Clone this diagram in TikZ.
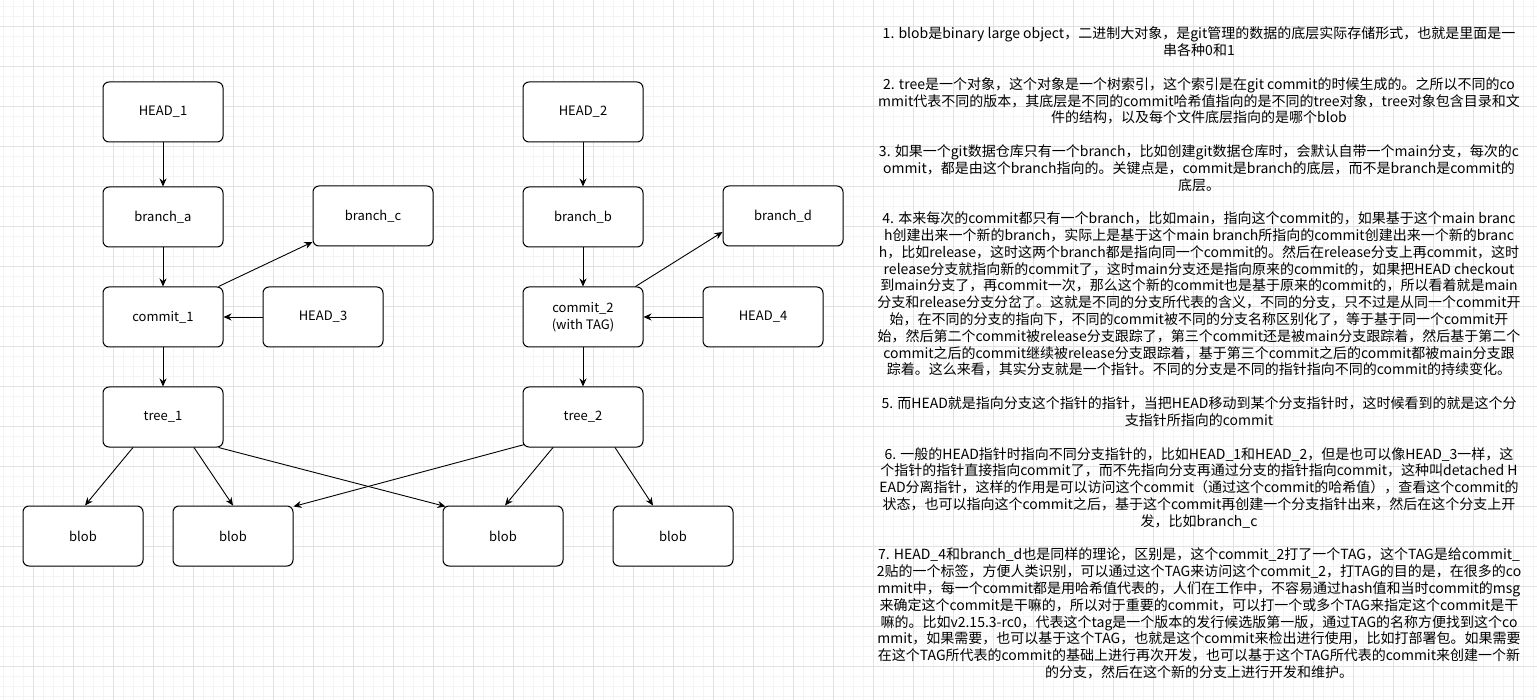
\documentclass[tikz,border=0pt]{standalone}
\usepackage{fontspec}
\setmainfont{Noto Sans CJK SC}
\newfontfamily\cjk{Noto Sans CJK SC}
\usetikzlibrary{arrows.meta}
\definecolor{gridminor}{HTML}{F4F4F4}
\definecolor{gridmajor}{HTML}{E2E2E2}
\newcommand\tline[2]{\node[txt] (t#1) at (1199,{39+16.8*#1}) {#2};}
\begin{document}
\begin{tikzpicture}[x=1pt,y=-1pt,
  box/.style={draw=black, fill=white, line width=1pt, rounded corners=6pt,
    minimum width=120pt, minimum height=60pt, inner sep=0pt, align=center,
    font=\cjk\fontsize{13}{16.5}\selectfont},
  arr/.style={-{Stealth[length=8pt,width=7pt]}, line width=0.9pt},
  txt/.style={anchor=base, inner sep=0pt, font=\cjk\fontsize{14}{16.8}\selectfont},
  minorline/.style={draw=gridminor, line width=0.8pt},
  majorline/.style={draw=gridmajor, line width=0.9pt}]
\useasboundingbox (0,0) rectangle (1537,700);
\fill[white] (0,0) rectangle (1537,700);
% grid
\foreach \x in {3.3,13.3,...,1537} \draw[minorline] (\x,0) -- (\x,700);
\foreach \y in {6.7,16.7,...,700} \draw[minorline] (0,\y) -- (1537,\y);
\foreach \x in {33.3,73.3,...,1537} \draw[majorline] (\x,0) -- (\x,700);
\foreach \y in {26.7,66.7,...,700} \draw[majorline] (0,\y) -- (1537,\y);

% nodes left
\node[box] (head1) at (163,112) {HEAD\_1};
\node[box] (brancha) at (163,217) {branch\_a};
\node[box] (commit1) at (163,317) {commit\_1};
\node[box] (tree1) at (163,417) {tree\_1};
\node[box] (branchc) at (373,216) {branch\_c};
\node[box] (head3) at (323,317) {HEAD\_3};
% nodes right
\node[box] (head2) at (583,112) {HEAD\_2};
\node[box] (branchb) at (583,217) {branch\_b};
\node[box] (commit2) at (583,317) {commit\_2\\(with TAG)};
\node[box] (tree2) at (583,417) {tree\_2};
\node[box] (branchd) at (783,216) {branch\_d};
\node[box] (head4) at (763,317) {HEAD\_4};
% blobs
\node[box] (blob1) at (83,536) {blob};
\node[box] (blob2) at (233,536) {blob};
\node[box] (blob3) at (503,536) {blob};
\node[box] (blob4) at (673,536) {blob};

% connectors
\draw[arr] (head1) -- (brancha);
\draw[arr] (brancha) -- (commit1);
\draw[arr] (commit1) -- (tree1);
\draw[arr] ([xshift=-5pt]commit1.north east) -- ([yshift=-26pt]branchc.west);
\draw[arr] (head3) -- (commit1);
\draw[arr] (head2) -- (branchb);
\draw[arr] (branchb) -- (commit2);
\draw[arr] (commit2) -- (tree2);
\draw[arr] ([xshift=-8pt]commit2.north east) -- ([yshift=-16pt]branchd.west);
\draw[arr] (head4) -- (commit2);
\draw[arr] ([xshift=-30pt]tree1.south) -- ([xshift=2pt]blob1.north);
\draw[arr] ([xshift=31pt]tree1.south) -- (blob2.north);
\draw[arr] ([xshift=-5pt]tree1.south east) -- ([xshift=3pt,yshift=-1pt]blob3.north west);
\draw[arr] ([xshift=2pt,yshift=3pt]tree2.south west) -- ([yshift=-1pt]blob2.north east);
\draw[arr] ([xshift=-30pt]tree2.south) -- ([xshift=2pt]blob3.north);
\draw[arr] ([xshift=32pt]tree2.south) -- ([xshift=-20pt]blob4.north);

% explanatory text
\tline{0}{1. blob是binary large object，二进制大对象，是git管理的数据的底层实际存储形式，也就是里面是一}
\tline{1}{串各种0和1}
\tline{3}{2. tree是一个对象，这个对象是一个树索引，这个索引是在git commit的时候生成的。之所以不同的co}
\tline{4}{mmit代表不同的版本，其底层是不同的commit哈希值指向的是不同的tree对象，tree对象包含目录和文}
\tline{5}{件的结构，以及每个文件底层指向的是哪个blob}
\tline{7}{3. 如果一个git数据仓库只有一个branch，比如创建git数据仓库时，会默认自带一个main分支，每次的c}
\tline{8}{ommit，都是由这个branch指向的。关键点是，commit是branch的底层，而不是branch是commit的}
\tline{9}{底层。}
\tline{11}{4. 本来每次的commit都只有一个branch，比如main，指向这个commit的，如果基于这个main branc}
\tline{12}{h创建出来一个新的branch，实际上是基于这个main branch所指向的commit创建出来一个新的branc}
\tline{13}{h，比如release，这时这两个branch都是指向同一个commit的。然后在release分支上再commit，这时}
\tline{14}{release分支就指向新的commit了，这时main分支还是指向原来的commit的，如果把HEAD checkout}
\tline{15}{到main分支了，再commit一次，那么这个新的commit也是基于原来的commit的，所以看着就是main}
\tline{16}{分支和release分支分岔了。这就是不同的分支所代表的含义，不同的分支，只不过是从同一个commit开}
\tline{17}{始，在不同的分支的指向下，不同的commit被不同的分支名称区别化了，等于基于同一个commit开}
\tline{18}{始，然后第二个commit被release分支跟踪了，第三个commit还是被main分支跟踪着，然后基于第二个}
\tline{19}{commit之后的commit继续被release分支跟踪着，基于第三个commit之后的commit都被main分支跟}
\tline{20}{踪着。这么来看，其实分支就是一个指针。不同的分支是不同的指针指向不同的commit的持续变化。}
\tline{22}{5. 而HEAD就是指向分支这个指针的指针，当把HEAD移动到某个分支指针时，这时候看到的就是这个分}
\tline{23}{支指针所指向的commit}
\tline{25}{6. 一般的HEAD指针时指向不同分支指针的，比如HEAD\_1和HEAD\_2，但是也可以像HEAD\_3一样，这}
\tline{26}{个指针的指针直接指向commit了，而不先指向分支再通过分支的指针指向commit，这种叫detached H}
\tline{27}{EAD分离指针，这样的作用是可以访问这个commit（通过这个commit的哈希值），查看这个commit的}
\tline{28}{状态，也可以指向这个commit之后，基于这个commit再创建一个分支指针出来，然后在这个分支上开}
\tline{29}{发，比如branch\_c}
\tline{31}{7. HEAD\_4和branch\_d也是同样的理论，区别是，这个commit\_2打了一个TAG，这个TAG是给commit\_}
\tline{32}{2贴的一个标签，方便人类识别，可以通过这个TAG来访问这个commit\_2，打TAG的目的是，在很多的co}
\tline{33}{mmit中，每一个commit都是用哈希值代表的，人们在工作中，不容易通过hash值和当时commit的msg}
\tline{34}{来确定这个commit是干嘛的，所以对于重要的commit，可以打一个或多个TAG来指定这个commit是干}
\tline{35}{嘛的。比如v2.15.3-rc0，代表这个tag是一个版本的发行候选版第一版，通过TAG的名称方便找到这个co}
\tline{36}{mmit，如果需要，也可以基于这个TAG，也就是这个commit来检出进行使用，比如打部署包。如果需要}
\tline{37}{在这个TAG所代表的commit的基础上进行再次开发，也可以基于这个TAG所代表的commit来创建一个新}
\tline{38}{的分支，然后在这个新的分支上进行开发和维护。}
\end{tikzpicture}
\end{document}
